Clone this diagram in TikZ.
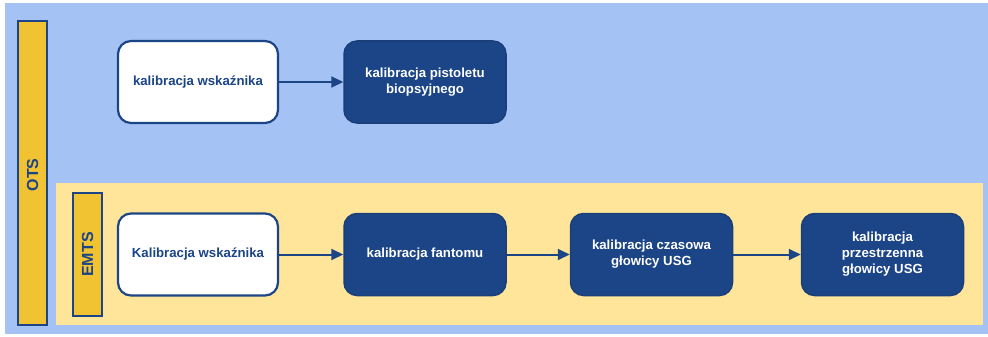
\documentclass[tikz,border=0pt]{standalone}
\usepackage{fontspec}
\setmainfont{Liberation Sans}
\usetikzlibrary{arrows.meta}
\definecolor{laneblue}{HTML}{A4C2F4}
\definecolor{laneyellow}{HTML}{FFE599}
\definecolor{baryellow}{HTML}{F1C232}
\definecolor{navy}{HTML}{1C4587}
\definecolor{navyedge}{HTML}{1A3E78}
\tikzset{
  lanebar/.style={draw=navy, line width=2.2pt, fill=baryellow},
  lanelabel/.style={text=navy, font=\bfseries\fontsize{16}{18}\selectfont, rotate=90},
  lightbox/.style={draw=navy, line width=2.2pt, fill=white, rounded corners=13pt,
    minimum width=160pt, minimum height=82pt, text=navy, align=center,
    font=\bfseries\fontsize{13.2}{16}\selectfont},
  darkbox/.style={draw=navyedge, line width=1.5pt, fill=navy, rounded corners=13pt,
    minimum width=162pt, minimum height=82pt, text=white, align=center,
    font=\bfseries\fontsize{13.2}{16}\selectfont},
  flow/.style={draw=navy, line width=2pt, -{Triangle[length=12pt,width=11pt]}}
}
\begin{document}
\begin{tikzpicture}[x=1pt,y=-1pt]
  \useasboundingbox (0,0) rectangle (988,337);
  % lanes
  \fill[laneblue] (5,3) rectangle (988,334);
  \fill[laneyellow] (56,183) rectangle (983,325);
  \draw[lanebar] (18,21) rectangle (47,325);
  \node[lanelabel] (ots) at (32.5,175) {OTS};
  \draw[lanebar] (73,193) rectangle (102,316);
  \node[lanelabel] (emts) at (87.5,254.5) {EMTS};
  % OTS row
  \node[lightbox] (a1) at (198,82) {kalibracja wskaźnika};
  \node[darkbox] (a2) at (425,82) {kalibracja pistoletu\\biopsyjnego};
  % EMTS row
  \node[lightbox] (b1) at (198,254.5) {Kalibracja wskaźnika};
  \node[darkbox] (b2) at (425,254.5) {kalibracja fantomu};
  \node[darkbox] (b3) at (651.5,254.5) {kalibracja czasowa\\głowicy USG};
  \node[darkbox] (b4) at (882.5,254.5) {kalibracja\\przestrzenna\\głowicy USG};
  % connectors
  \draw[flow] (a1) -- (a2);
  \draw[flow] (b1) -- (b2);
  \draw[flow] (b2) -- (b3);
  \draw[flow] (b3) -- (b4);
\end{tikzpicture}
\end{document}
